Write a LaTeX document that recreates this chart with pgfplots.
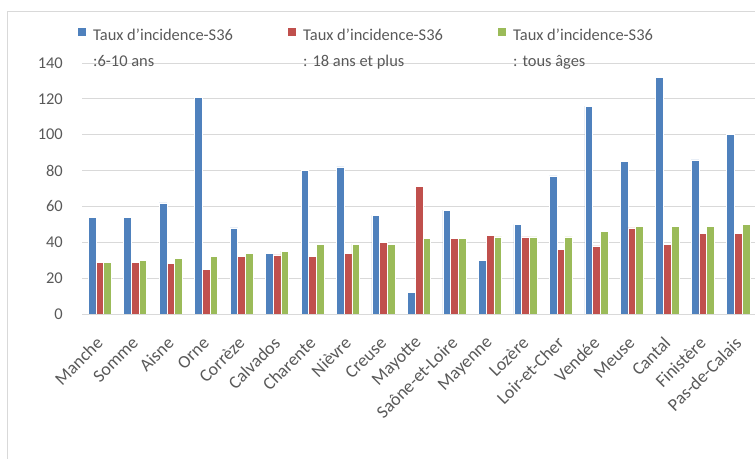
\documentclass[border=0pt]{standalone}
\usepackage{pgfplots}
\pgfplotsset{compat=1.18}
\usepackage{fontspec}
\setmainfont{Carlito}

\definecolor{xlblue}{HTML}{4F81BD}
\definecolor{xlred}{HTML}{C0504D}
\definecolor{xlgreen}{HTML}{9BBB59}
\definecolor{txtgray}{HTML}{595959}
\definecolor{gridgray}{HTML}{D9D9D9}

\begin{document}
\begin{tikzpicture}
  \useasboundingbox (0,0) rectangle (755bp,459bp);
  % chart frame (cut on right and bottom)
  \draw[gridgray, line width=0.8bp] (7.5bp,0) -- (7.5bp,447.3bp) -- (755bp,447.3bp);
  \begin{axis}[
      scale only axis,
      at={(82bp,145bp)}, anchor=south west,
      width=674bp, height=251bp,
      xmin=-0.5, xmax=18.5,
      ymin=0, ymax=140,
      ytick={0,20,...,140},
      xtick=data,
      xticklabels={Manche,Somme,Aisne,Orne,Corrèze,Calvados,Charente,Nièvre,Creuse,Mayotte,Saône-et-Loire,Mayenne,Lozère,Loir-et-Cher,Vendée,Meuse,Cantal,Finistère,Pas-de-Calais},
      xticklabel style={rotate=45, anchor=east, font=\fontsize{18}{18}\selectfont, text=txtgray, inner sep=0pt},
      xticklabel shift=26bp,
      yticklabel style={font=\fontsize{16.5}{16.5}\selectfont, text=txtgray, inner sep=0pt},
      yticklabel shift=19bp,
      /pgf/number format/assume math mode=true,
      axis line style={draw=none},
      major tick length=0pt,
      ymajorgrids,
      grid style={gridgray, line width=0.8bp},
      ybar, bar width=7.7bp,
      legend columns=3,
      legend cell align=left,
      legend style={at={(-0.006,1.14)}, anchor=north west, draw=none, fill=none,
        inner sep=0pt, nodes={inner sep=0pt},
        font=\fontsize{16.5}{26}\selectfont, text=txtgray,
        /tikz/every odd column/.append style={column sep=7bp},
        /tikz/every even column/.append style={column sep=0bp}},
      legend image code/.code={\fill[#1, draw=none] (0bp,-1bp) rectangle (8bp,7bp);},
    ]
    \addplot[fill=xlblue, draw=white, line width=0.6bp, bar shift=-7.7bp] coordinates {
      (0,54) (1,54) (2,62) (3,121) (4,48) (5,34) (6,80) (7,82) (8,55) (9,12)
      (10,58) (11,30) (12,50) (13,77) (14,116) (15,85) (16,132) (17,86) (18,100)};
    \addplot[fill=xlred, draw=white, line width=0.6bp, bar shift=0bp] coordinates {
      (0,29) (1,29) (2,28) (3,25) (4,32) (5,33) (6,32) (7,34) (8,40) (9,71)
      (10,42) (11,44) (12,43) (13,36) (14,38) (15,48) (16,39) (17,45) (18,45)};
    \addplot[fill=xlgreen, draw=white, line width=0.6bp, bar shift=7.7bp] coordinates {
      (0,29) (1,30) (2,31) (3,32) (4,34) (5,35) (6,39) (7,39) (8,39) (9,42)
      (10,42) (11,43) (12,43) (13,43) (14,46) (15,49) (16,49) (17,49) (18,50)};
    \addlegendentry{\parbox[t]{195bp}{Taux d'incidence-S36\\:6-10 ans}}
    \addlegendentry{\parbox[t]{195bp}{Taux d'incidence-S36\\: 18 ans et plus}}
    \addlegendentry{\parbox[t]{195bp}{Taux d'incidence-S36\\: tous âges}}
  \end{axis}
\end{tikzpicture}
\end{document}
